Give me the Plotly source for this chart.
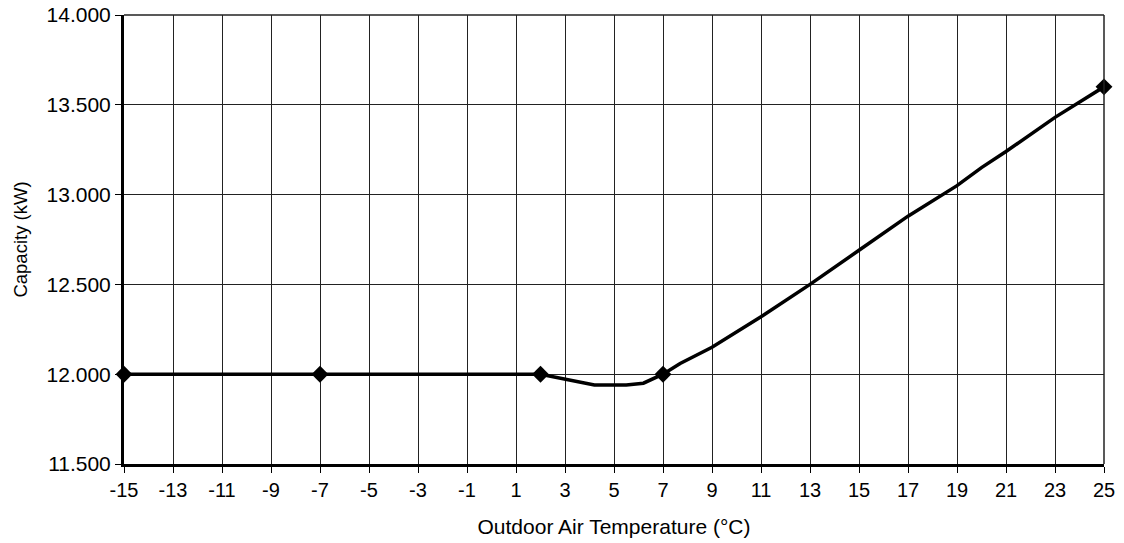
import plotly.graph_objects as go

# Curve data (Outdoor air temperature °C vs capacity kW)
curve_temp = [-15, -7, 2, 4.2, 5.5, 6.2, 7, 7.7, 9, 11, 13, 15, 17, 19, 20, 21, 23, 25]
curve_cap = [12.0, 12.0, 12.0, 11.94, 11.94, 11.95, 12.0, 12.06, 12.15, 12.32, 12.5, 12.69,
             12.88, 13.05, 13.15, 13.24, 13.43, 13.6]

# Rated points (markers)
point_temp = [-15, -7, 2, 7, 25]
point_cap = [12.0, 12.0, 12.0, 12.0, 13.6]

x_ticks = list(range(-15, 26, 2))
y_ticks = [11.5, 12.0, 12.5, 13.0, 13.5, 14.0]

font_family = "Liberation Sans, Arial, sans-serif"

fig = go.Figure()
fig.add_trace(go.Scatter(x=curve_temp, y=curve_cap, mode="lines",
                         line=dict(color="black", width=3.5), showlegend=False,
                         hoverinfo="skip"))
fig.add_trace(go.Scatter(x=point_temp, y=point_cap, mode="markers",
                         marker=dict(symbol="diamond", size=13, color="black"),
                         showlegend=False, cliponaxis=False))

fig.update_layout(
    width=1124, height=543,
    margin=dict(l=124, r=20, t=15, b=79, autoexpand=False),
    paper_bgcolor="white", plot_bgcolor="white",
    font=dict(family=font_family, size=18, color="black"),
)
fig.update_xaxes(
    range=[-15, 25], tickvals=x_ticks, ticktext=[str(v) for v in x_ticks],
    showgrid=True, gridcolor="#222222", gridwidth=1,
    showline=True, linecolor="black", linewidth=3, mirror=False,
    ticks="outside", ticklen=6, tickcolor="black", tickwidth=1,
    zeroline=False, tickfont=dict(size=20), ticklabeloverflow="allow",
    automargin=False,
    title=dict(text="Outdoor Air Temperature (°C)", font=dict(size=21), standoff=20),
)
fig.update_yaxes(
    range=[11.5, 14.0], tickvals=y_ticks, ticktext=[f"{v:.3f}" for v in y_ticks],
    showgrid=True, gridcolor="#222222", gridwidth=1,
    showline=True, linecolor="black", linewidth=3,
    ticks="outside", ticklen=6, tickcolor="black", tickwidth=1,
    zeroline=False, tickfont=dict(size=21), ticklabeloverflow="allow",
    automargin=False,
    title=dict(text="Capacity (kW)", font=dict(size=18.5), standoff=15),
)
# right/top frame lines like the gridlines
fig.add_shape(type="line", xref="paper", yref="paper", x0=1, x1=1, y0=0, y1=1,
              line=dict(color="#222222", width=1.5), layer="above")
fig.add_shape(type="line", xref="paper", yref="paper", x0=0, x1=1, y0=1, y1=1,
              line=dict(color="#222222", width=1.5), layer="above")

fig.write_html("out.html", config={"displayModeBar": False},
               post_script="document.body.style.margin='0';document.body.style.overflow='hidden';")
